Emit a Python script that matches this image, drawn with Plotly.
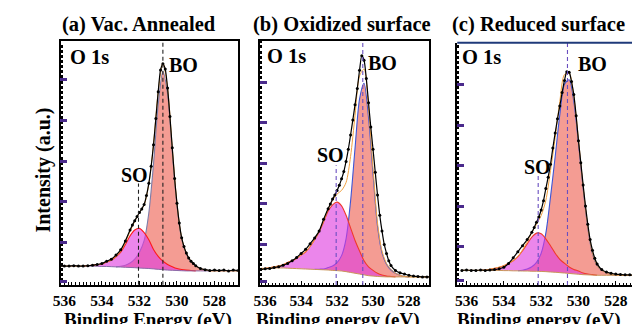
import plotly.graph_objects as go

# ---------------- data ----------------
# x grid for the fitted components / background
BE = [536.25, 536.0, 535.75, 535.5, 535.25, 535.0, 534.75, 534.5, 534.25, 534.0,
      533.75, 533.5, 533.25, 533.0, 532.75, 532.5, 532.25, 532.0, 531.75, 531.5,
      531.25, 531.0, 530.75, 530.5, 530.25, 530.0, 529.75, 529.5, 529.25, 529.0,
      528.75, 528.5, 528.25, 528.0, 527.75, 527.5, 527.25, 527.0, 526.75]
# x grid for the measured spectra (denser across the peak)
BE_DATA = [536.25, 536.0, 535.75, 535.5, 535.25, 535.0, 534.75, 534.5, 534.25, 534.0,
           533.75, 533.5, 533.25, 533.0, 532.75,
           532.5, 532.375, 532.25, 532.125, 532.0, 531.875, 531.75, 531.625, 531.5, 531.375,
           531.25, 531.125, 531.0, 530.875, 530.75, 530.625, 530.5, 530.375, 530.25, 530.125,
           530.0, 529.875, 529.75, 529.625, 529.5, 529.375, 529.25, 529.125, 529.0,
           528.75, 528.5, 528.25, 528.0, 527.75, 527.5, 527.25, 527.0, 526.75]

# (a) Vac. Annealed
DATA_A = [0.46, 0.46, 0.46, 0.47, 0.46, 0.46, 0.47, 0.48, 0.50, 0.52,
          0.58, 0.63, 0.73, 0.86, 1.08,
          1.35, 1.47, 1.58, 1.68, 1.78, 1.87, 1.98, 2.20, 2.50, 2.92,
          3.45, 4.10, 4.76, 5.30, 5.45, 5.32, 4.85, 4.15, 3.38, 2.62,
          2.01, 1.52, 1.16, 0.94, 0.78, 0.66, 0.58, 0.52, 0.47,
          0.40, 0.37, 0.35, 0.36, 0.35, 0.36, 0.34, 0.36, 0.35]
BG_A = [0.46, 0.46, 0.46, 0.46, 0.46, 0.46, 0.46, 0.46, 0.455, 0.45,
        0.45, 0.445, 0.44, 0.435, 0.43, 0.425, 0.42, 0.41, 0.405, 0.40,
        0.39, 0.38, 0.37, 0.36, 0.355, 0.35, 0.345, 0.34, 0.34, 0.34,
        0.34, 0.34, 0.34, 0.34, 0.34, 0.34, 0.34, 0.34, 0.34]
BO_A = [0, 0, 0, 0, 0, 0, 0, 0, 0, 0,
        0, 0, 0, 0.02, 0.05, 0.11, 0.21, 0.39, 0.68, 1.37,
        2.59, 4.06, 4.89, 4.35, 2.93, 1.61, 0.78, 0.42, 0.23, 0.13,
        0.06, 0.03, 0, 0, 0, 0, 0, 0, 0]
SO_A = [0, 0, 0, 0, 0, 0, 0.01, 0.02, 0.04, 0.06,
        0.11, 0.16, 0.25, 0.37, 0.56, 0.78, 0.93, 0.98, 0.88, 0.71,
        0.48, 0.32, 0.21, 0.14, 0.09, 0.05, 0.03, 0.02, 0.01, 0,
        0, 0, 0, 0, 0, 0, 0, 0, 0]

# (b) Oxidized surface
DATA_B = [0.38, 0.40, 0.41, 0.43, 0.45, 0.49, 0.53, 0.60, 0.68, 0.78,
          0.88, 1.02, 1.16, 1.33, 1.62,
          1.88, 2.00, 2.12, 2.22, 2.33, 2.46, 2.62, 2.80, 3.05, 3.35,
          3.70, 4.07, 4.45, 4.85, 5.30, 5.66, 5.55, 5.10, 4.50, 3.90,
          3.35, 2.78, 2.22, 1.72, 1.33, 1.00, 0.78, 0.60, 0.48,
          0.36, 0.30, 0.27, 0.24, 0.22, 0.21, 0.20, 0.20, 0.20]
BG_B = [0.41, 0.41, 0.415, 0.42, 0.42, 0.42, 0.415, 0.41, 0.405, 0.40,
        0.395, 0.39, 0.385, 0.38, 0.375, 0.37, 0.36, 0.355, 0.345, 0.33,
        0.31, 0.29, 0.27, 0.25, 0.23, 0.22, 0.21, 0.205, 0.20, 0.20,
        0.20, 0.20, 0.20, 0.20, 0.20, 0.20, 0.20, 0.20, 0.20]
BO_B = [0, 0, 0, 0, 0, 0, 0, 0, 0, 0,
        0, 0, 0, 0.01, 0.02, 0.06, 0.11, 0.20, 0.38, 0.81,
        1.76, 3.09, 4.32, 4.73, 3.90, 2.52, 1.24, 0.59, 0.31, 0.17,
        0.09, 0.04, 0.01, 0, 0, 0, 0, 0, 0]
SO_B = [0, 0, 0.01, 0.03, 0.05, 0.08, 0.14, 0.19, 0.25, 0.34,
        0.42, 0.56, 0.73, 0.93, 1.18, 1.45, 1.62, 1.69, 1.61, 1.39,
        1.10, 0.81, 0.57, 0.35, 0.22, 0.14, 0.08, 0.04, 0.02, 0.01,
        0, 0, 0, 0, 0, 0, 0, 0, 0]

# (c) Reduced surface
DATA_C = [0.36, 0.37, 0.36, 0.36, 0.37, 0.36, 0.37, 0.38, 0.40, 0.44,
          0.53, 0.67, 0.82, 0.97, 1.12,
          1.30, 1.42, 1.55, 1.68, 1.85, 2.08, 2.38, 2.66, 2.98, 3.38,
          3.75, 4.10, 4.42, 4.75, 5.05, 5.26, 5.25, 5.02, 4.70, 4.18,
          3.56, 3.02, 2.47, 1.95, 1.50, 1.12, 0.86, 0.66, 0.52,
          0.38, 0.32, 0.29, 0.27, 0.26, 0.25, 0.25, 0.24, 0.24]
BG_C = [0.36, 0.36, 0.36, 0.36, 0.36, 0.36, 0.36, 0.36, 0.36, 0.355,
        0.355, 0.35, 0.35, 0.345, 0.345, 0.34, 0.34, 0.335, 0.33, 0.32,
        0.315, 0.305, 0.295, 0.285, 0.275, 0.265, 0.255, 0.25, 0.245, 0.24,
        0.24, 0.24, 0.24, 0.24, 0.24, 0.24, 0.24, 0.24, 0.24]
BO_C = [0, 0, 0, 0, 0, 0, 0, 0, 0, 0,
        0, 0, 0, 0.02, 0.05, 0.11, 0.22, 0.45, 0.95, 1.85,
        2.85, 3.90, 4.66, 4.78, 4.25, 3.24, 2.13, 1.16, 0.53, 0.24,
        0.12, 0.06, 0.02, 0.01, 0, 0, 0, 0, 0]
SO_C = [0, 0, 0, 0, 0, 0.01, 0.03, 0.05, 0.08, 0.12,
        0.18, 0.25, 0.35, 0.50, 0.67, 0.84, 0.94, 0.93, 0.81, 0.65,
        0.47, 0.33, 0.24, 0.16, 0.11, 0.08, 0.04, 0.02, 0.01, 0,
        0, 0, 0, 0, 0, 0, 0, 0, 0]

# peak positions (dashed guide lines), eV
SO_POS = [532.05, 532.05, 532.16]
BO_POS = [530.75, 530.57, 530.59]

PANEL_TITLES = ["(a) Vac. Annealed", "(b) Oxidized surface", "(c) Reduced surface"]
X_TITLES = ["Binding Energy (eV)", "Binding energy (eV)", "Binding energy (eV)"]
X_TICKS = [536, 534, 532, 530, 528]
Y_TICKS = [[0.09, 1.05, 2.05, 3.05, 4.06, 5.07],
           [0.09, 1.0, 2.0, 3.0, 4.0, 5.01],
           [0.12, 0.94, 1.94, 2.94, 3.94, 4.95]]

# ---------------- layout geometry / styles ----------------
W, H = 632, 324
SERIF = "Liberation Serif, Times New Roman, serif"
PX_DOM = [(53.3, 232.7, 40.7, 284.7), (255.0, 426.7, 40.7, 285.0), (455.0, 632.0, 42.7, 285.0)]
X_RANGES = [[536.2, 526.76], [536.3, 526.87], [536.5, 527.13]]
Y_RANGES = [[0, 6.02], [0, 6.03], [0, 5.98]]
STYLES = [
    dict(bo_line="#7c7ca8", so_line="#ff1a1a", bg_line="#8a6aa8", dash="#222222"),
    dict(bo_line="#3d55d6", so_line="#f03a2a", bg_line="#c8965a", dash="#6a4fc0"),
    dict(bo_line="#3d55d6", so_line="#f03a2a", bg_line="#c8965a", dash="#6a4fc0"),
]
SO_DASH_TOP = [0.415, 0.49, 0.465]
BO_FILL = "rgba(240,118,106,0.72)"
SO_FILL = "rgba(222,60,222,0.62)"

TEXT_POS = [
    dict(title=(132.5, 24.5), o1s=(83, 57), bo=(178, 65), so=(128, 175), xt=(142, 319.5)),
    dict(title=(338, 24.5), o1s=(282, 56), bo=(379, 63), so=(327, 155), xt=(334, 319.5)),
    dict(title=(537, 24.5), o1s=(480, 57), bo=(592, 64), so=(536, 167), xt=(538, 319.5)),
]

PANELS = [(DATA_A, BG_A, BO_A, SO_A), (DATA_B, BG_B, BO_B, SO_B), (DATA_C, BG_C, BO_C, SO_C)]


def support(net):
    idx = [i for i, v in enumerate(net) if v > 0]
    return max(idx[0] - 1, 0), min(idx[-1] + 1, len(net) - 1) + 1


fig = go.Figure()
for k, (data, bg, bo, so) in enumerate(PANELS):
    st = STYLES[k]
    xa = "x" if k == 0 else f"x{k + 1}"
    ya = "y" if k == 0 else f"y{k + 1}"
    common = dict(xaxis=xa, yaxis=ya, showlegend=False, hoverinfo="skip")
    for net, fillc, linec in ((bo, BO_FILL, st["bo_line"]), (so, SO_FILL, st["so_line"])):
        lo, hi = support(net)
        xs = BE[lo:hi]
        base = bg[lo:hi]
        top = [b + v for b, v in zip(base, net[lo:hi])]
        fig.add_trace(go.Scatter(x=xs, y=base, mode="lines",
                                 line=dict(width=0, shape="spline", smoothing=0.8), **common))
        fig.add_trace(go.Scatter(x=xs, y=top, mode="lines", fill="tonexty", fillcolor=fillc,
                                 line=dict(color=linec, width=1.1, shape="spline", smoothing=0.8),
                                 **common))
    fig.add_trace(go.Scatter(x=BE, y=bg, mode="lines",
                             line=dict(color=st["bg_line"], width=1, shape="spline"), **common))
    env = [b + p + q for b, p, q in zip(bg, bo, so)]
    fig.add_trace(go.Scatter(x=BE, y=env, mode="lines",
                             line=dict(color="#f0a040", width=1, shape="spline", smoothing=0.8),
                             **common))
    fig.add_trace(go.Scatter(x=BE_DATA, y=data, mode="lines+markers",
                             line=dict(color="black", width=1.2, shape="spline", smoothing=0.7),
                             marker=dict(color="black", size=3), **common))

    x0, x1, ytop, ybot = PX_DOM[k]
    xdom = [x0 / W, x1 / W]
    ydom = [(H - ybot) / H, (H - ytop) / H]
    xkey = "xaxis" if k == 0 else f"xaxis{k + 1}"
    ykey = "yaxis" if k == 0 else f"yaxis{k + 1}"
    fig.update_layout(**{
        xkey: dict(domain=xdom, range=X_RANGES[k], anchor=ya, showline=True, linecolor="black",
                   linewidth=1.5, mirror=(k < 2), ticks="inside", ticklen=4, tickcolor="black",
                   tickvals=X_TICKS, ticktext=[str(t) for t in X_TICKS],
                   tickfont=dict(family=SERIF, size=15.5, color="black", weight="bold"),
                   ticklabelstandoff=1, showgrid=False, zeroline=False,
                   minor=dict(ticks="inside", ticklen=2.5, tickcolor="black", tick0=536, dtick=0.2,
                              showgrid=False)),
        ykey: dict(domain=ydom, range=Y_RANGES[k], anchor=xa, showline=True, linecolor="black",
                   linewidth=1.5, mirror=(k < 2), ticks="inside", ticklen=7, tickwidth=2.5,
                   tickcolor="#4a2a8c", tickvals=Y_TICKS[k], showticklabels=False,
                   showgrid=False, zeroline=False,
                   minor=dict(ticks="inside", ticklen=2.5, tickcolor="black", tick0=0, dtick=0.125,
                              showgrid=False)),
    })
    # dashed guide lines
    fig.add_shape(type="line", xref=xa, yref=f"{ya} domain", x0=BO_POS[k], x1=BO_POS[k], y0=0, y1=1,
                  line=dict(color=st["dash"], width=1.1, dash="4px,3px"))
    fig.add_shape(type="line", xref=xa, yref=f"{ya} domain", x0=SO_POS[k], x1=SO_POS[k], y0=0,
                  y1=SO_DASH_TOP[k], line=dict(color=st["dash"], width=1.1, dash="4px,3px"))

    tp = TEXT_POS[k]
    def ann(text, pos, size, **kw):
        fig.add_annotation(text=f"<b>{text}</b>", x=pos[0] / W, y=1 - pos[1] / H, xref="paper",
                           yref="paper", showarrow=False, xanchor="center", yanchor="middle",
                           font=dict(family=SERIF, size=size, color="black"), **kw)
    ann(PANEL_TITLES[k], tp["title"], 20.5)
    ann("O 1s", tp["o1s"], 20.5)
    ann("BO", tp["bo"], 20)
    ann("SO", tp["so"], 20)
    ann(X_TITLES[k], tp["xt"], 19)

# top border of panel (c) drawn in navy
fig.add_shape(type="line", xref="x3 domain", yref="y3 domain", x0=0, x1=1, y0=1, y1=1,
              line=dict(color="#1f3a7a", width=2))

fig.add_annotation(text="<b>Intensity (a.u.)</b>", x=35 / W, y=1 - 170 / H, xref="paper", yref="paper",
                   showarrow=False, textangle=-90, xanchor="center", yanchor="middle",
                   font=dict(family=SERIF, size=20, color="black"))

fig.update_layout(width=W, height=H, margin=dict(l=0, r=0, t=0, b=0), autosize=False,
                  paper_bgcolor="white", plot_bgcolor="white")
fig.write_html("out.html", config={"displayModeBar": False},
               post_script="document.body.style.margin='0';document.body.style.overflow='hidden';")
